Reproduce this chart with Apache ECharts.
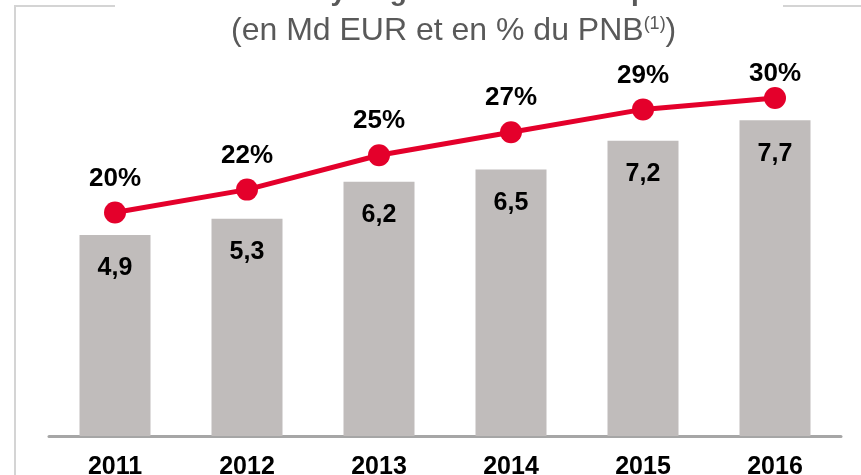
<!DOCTYPE html>
<html>
<head>
<meta charset="utf-8">
<script src="https://cdn.jsdelivr.net/npm/echarts@6/dist/echarts.min.js"></script>
<style>
  html, body { margin: 0; padding: 0; background: #fff; }
  #chart { width: 861px; height: 475px; }
</style>
</head>
<body>
<div id="chart"></div>
<script>
// values
const years = ['2011', '2012', '2013', '2014', '2015', '2016'];
const revenues = [4.9, 5.3, 6.2, 6.5, 7.2, 7.7];   // Md EUR
const shares = [20, 22, 25, 27, 29, 30];           // % du PNB

const chart = echarts.init(document.getElementById('chart'));

// last percentage label sits closer to its dot in the original
const shareData = shares.map((v, i) =>
  i === shares.length - 1 ? { value: v, label: { distance: 0 } } : v
);

const option = {
  animation: false,
  backgroundColor: '#fff',
  title: {
    left: 226,
    top: 10,
    text: '{a|(en Md EUR et en % du PNB}{s|(1)}{a|)}',
    textStyle: {
      rich: {
        a: { fontFamily: 'Liberation Sans', fontWeight: 'normal', fontSize: 32, color: '#595959' },
        s: { fontFamily: 'Liberation Sans', fontWeight: 'normal', fontSize: 18, color: '#595959', verticalAlign: 'top', padding: [0, 0, 15, 0] }
      }
    }
  },
  graphic: [
    {
      type: 'text', left: 150, top: -22,
      style: { text: 'Revenus de synergies en hausse depuis 2011', font: 'bold 28px "Liberation Sans"', fill: '#595959' }
    },
    {
      type: 'polyline', silent: true,
      shape: { points: [[115, 6], [15, 6], [15, 475]] },
      style: { stroke: '#d4d4d4', lineWidth: 2, fill: null }
    },
    {
      type: 'line', silent: true,
      shape: { x1: 783, y1: 6, x2: 861, y2: 6 },
      style: { stroke: '#d4d4d4', lineWidth: 2 }
    }
  ],
  grid: { left: 49, right: 20, top: 60, bottom: 39, outerBoundsMode: 'none' },
  xAxis: {
    type: 'category',
    data: years,
    axisLine: { lineStyle: { color: '#a6a6a6', width: 3 } },
    axisTick: { show: false },
    axisLabel: {
      margin: 19,
      fontFamily: 'Liberation Sans',
      fontWeight: 'bold',
      fontSize: 25,
      color: '#000'
    }
  },
  yAxis: [
    { type: 'value', min: 0, max: 9.17, show: false, splitLine: { show: false } },
    { type: 'value', min: 0.5, max: 33.31, show: false, splitLine: { show: false } }
  ],
  series: [
    {
      type: 'bar',
      data: revenues,
      barWidth: 71,
      itemStyle: { color: '#c0bcbb' },
      label: {
        show: true,
        position: 'insideTop',
        distance: 21,
        formatter: p => String(p.value).replace('.', ','),
        fontFamily: 'Liberation Sans',
        fontWeight: 'bold',
        fontSize: 25,
        color: '#000'
      }
    },
    {
      type: 'line',
      yAxisIndex: 1,
      data: shareData,
      clip: false,
      symbol: 'circle',
      symbolSize: 22,
      lineStyle: { color: '#e4002b', width: 5 },
      itemStyle: { color: '#e4002b' },
      label: {
        show: true,
        position: 'top',
        distance: 10,
        formatter: '{c}%',
        fontFamily: 'Liberation Sans',
        fontWeight: 'bold',
        fontSize: 26,
        color: '#000'
      }
    }
  ]
};

chart.setOption(option);
</script>
</body>
</html>
